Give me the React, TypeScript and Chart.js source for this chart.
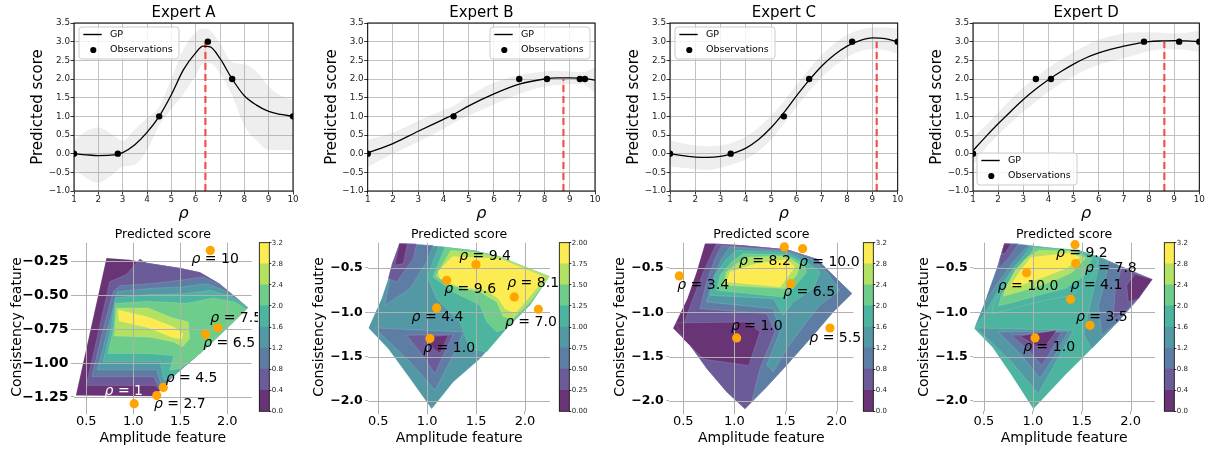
import React, { useEffect, useRef } from "react";
import { Chart, registerables } from "chart.js";

Chart.register(...registerables);

const FONT = "'DejaVu Sans', 'Liberation Sans', Arial, sans-serif";

// ================= Top row: GP fits =================
const topXTicks = [1, 2, 3, 4, 5, 6, 7, 8, 9, 10];
const topYTicks = [-1, -0.5, 0, 0.5, 1, 1.5, 2, 2.5, 3, 3.5];

const gpXA = [1, 1.5, 2, 2.5, 3, 3.5, 4, 4.5, 5, 5.5, 6, 6.3, 6.6, 7, 7.5, 8, 8.5, 9, 9.5, 10];
const gpMeanA = [0, -0.03, -0.05, -0.04, 0.03, 0.24, 0.57, 1.0, 1.58, 2.25, 2.7, 2.88, 2.86, 2.55, 2.0, 1.55, 1.3, 1.13, 1.05, 1.0];
const gpUpperA = [0.35, 0.6, 0.7, 0.55, 0.35, 0.65, 0.95, 1.25, 2.0, 2.8, 3.25, 3.35, 3.3, 2.95, 2.45, 2.4, 2.2, 1.8, 1.55, 1.45];
const gpLowerA = [-0.4, -0.65, -0.78, -0.6, -0.35, -0.3, 0.1, 0.75, 1.2, 1.6, 2.1, 2.4, 2.42, 2.15, 1.55, 0.75, 0.35, 0.1, 0.1, 0.1];
const obsXA = [1, 2.8, 4.5, 6.5, 7.5, 10];
const obsYA = [0, 0, 1, 3, 2, 1];
const bestRhoA = 6.4;

const gpXB = [1, 2, 3, 4, 4.4, 5, 6, 7, 8, 8.5, 9, 9.5, 10];
const gpMeanB = [0.02, 0.27, 0.6, 0.92, 1.05, 1.28, 1.6, 1.86, 2.0, 2.03, 2.03, 2.02, 1.97];
const gpUpperB = [0.38, 0.56, 0.88, 1.17, 1.28, 1.55, 1.9, 2.1, 2.2, 2.22, 2.2, 2.18, 2.3];
const gpLowerB = [-0.35, 0.0, 0.32, 0.66, 0.82, 1.02, 1.32, 1.6, 1.8, 1.84, 1.86, 1.86, 1.63];
const obsXB = [1, 4.4, 7, 8.1, 9.4, 9.6];
const obsYB = [0, 1, 2, 2, 2, 2];
const bestRhoB = 8.75;

const gpXC = [1, 1.5, 2, 2.5, 3, 3.4, 4, 4.5, 5, 5.5, 6, 6.5, 7, 7.5, 8, 8.5, 9, 9.5, 10];
const gpMeanC = [0, -0.05, -0.09, -0.1, -0.07, -0.01, 0.15, 0.38, 0.7, 1.1, 1.55, 1.97, 2.35, 2.65, 2.88, 3.03, 3.1, 3.08, 3.0];
const gpUpperC = [0.35, 0.28, 0.22, 0.2, 0.22, 0.28, 0.45, 0.7, 1.02, 1.4, 1.85, 2.27, 2.65, 2.95, 3.18, 3.32, 3.38, 3.38, 3.35];
const gpLowerC = [-0.35, -0.38, -0.42, -0.44, -0.38, -0.3, -0.15, 0.07, 0.38, 0.8, 1.25, 1.67, 2.05, 2.35, 2.58, 2.74, 2.8, 2.78, 2.68];
const obsXC = [1, 3.4, 5.5, 6.5, 8.2, 10];
const obsYC = [0, 0, 1, 2, 3, 3];
const bestRhoC = 9.17;

const gpXD = [1, 1.5, 2, 2.5, 3, 3.5, 4, 4.5, 5, 5.5, 6, 6.5, 7, 7.5, 8, 8.5, 9, 9.5, 10];
const gpMeanD = [0.08, 0.45, 0.8, 1.13, 1.45, 1.73, 1.98, 2.2, 2.4, 2.57, 2.7, 2.8, 2.88, 2.95, 3.0, 3.02, 3.03, 3.02, 3.0];
const gpUpperD = [0.45, 0.75, 1.1, 1.45, 1.78, 2.05, 2.3, 2.52, 2.72, 2.9, 3.05, 3.15, 3.22, 3.25, 3.25, 3.24, 3.22, 3.24, 3.3];
const gpLowerD = [-0.3, 0.15, 0.5, 0.82, 1.12, 1.4, 1.66, 1.88, 2.08, 2.25, 2.38, 2.48, 2.56, 2.65, 2.75, 2.79, 2.8, 2.78, 2.72];
const obsXD = [1, 3.5, 4.1, 7.8, 9.2, 10];
const obsYD = [0, 2, 2, 3, 3, 3];
const bestRhoD = 8.61;

// ================= Bottom row: contour maps =================
const contourXTicks = [0.5, 1.0, 1.5, 2.0];
const contourYTicksA = [-0.25, -0.5, -0.75, -1.0, -1.25];
const contourYTicksBCD = [-0.5, -1.0, -1.5, -2.0];
const cbLevels32 = [0, 0.4, 0.8, 1.2, 1.6, 2.0, 2.4, 2.8, 3.2];
const cbLevels2 = [0, 0.25, 0.5, 0.75, 1.0, 1.25, 1.5, 1.75, 2.0];

// Expert A contour regions (band index = level band)
const polyA0 = [[0.715, -0.226], [0.96, -0.238], [1.14, -0.26], [1.5, -0.3], [1.71, -0.33], [1.92, -0.415], [2.22, -0.59], [1.99, -0.75], [1.71, -0.93], [1.43, -1.095], [1.285, -1.2], [1.25, -1.245], [0.39, -1.24]];
const polyA1 = [[1.07, -0.232], [1.14, -0.26], [1.5, -0.3], [1.71, -0.33], [1.92, -0.415], [2.22, -0.59], [1.99, -0.75], [1.71, -0.93], [1.43, -1.095], [1.285, -1.2], [1.23, -1.165], [0.5, -1.165], [0.62, -0.8], [0.75, -0.4], [0.93, -0.346]];
const polyA2 = [[0.86, -0.43], [1.18, -0.415], [1.5, -0.39], [1.745, -0.365], [1.94, -0.43], [2.22, -0.59], [1.99, -0.75], [1.71, -0.93], [1.43, -1.095], [1.285, -1.19], [1.215, -1.1], [0.56, -1.1], [0.67, -0.78], [0.79, -0.47]];
const polyA3 = [[0.83, -0.475], [1.18, -0.45], [1.515, -0.44], [1.78, -0.415], [1.965, -0.465], [2.22, -0.59], [1.99, -0.75], [1.71, -0.93], [1.43, -1.095], [1.3, -1.165], [1.25, -1.05], [0.62, -1.05], [0.72, -0.78]];
const polyA4 = [[0.81, -0.52], [1.16, -0.495], [1.53, -0.49], [1.815, -0.465], [2.03, -0.505], [2.22, -0.59], [1.99, -0.75], [1.71, -0.93], [1.43, -1.095], [1.33, -1.125], [1.285, -0.99], [0.68, -0.99], [0.76, -0.76]];
const polyA5 = [[0.81, -0.56], [1.16, -0.545], [1.57, -0.56], [1.85, -0.52], [2.08, -0.55], [2.205, -0.605], [1.99, -0.75], [1.71, -0.93], [1.5, -1.04], [1.39, -1.055], [1.43, -0.945], [1.14, -0.93], [0.73, -0.93], [0.79, -0.75]];
const polyA6 = [[0.82, -0.595], [1.16, -0.595], [1.43, -0.67], [1.585, -0.695], [1.6, -0.82], [1.525, -0.88], [1.43, -0.845], [1.18, -0.81], [0.8, -0.8]];
const polyA7 = [[0.84, -0.61], [1.16, -0.66], [1.43, -0.735], [1.53, -0.785], [1.515, -0.825], [1.41, -0.81], [1.16, -0.74], [0.85, -0.69]];
const layersA = [[polyA0, 0], [polyA1, 1], [polyA2, 2], [polyA3, 3], [polyA4, 4], [polyA5, 5], [polyA6, 6], [polyA7, 7]];
const rhoTextA = ["10", "7.5", "6.5", "4.5", "2.7", "1"];
const rhoXA = [1.82, 1.9, 1.77, 1.32, 1.25, 1.01];
const rhoYA = [-0.17, -0.74, -0.79, -1.18, -1.24, -1.3];
const textXA = [1.62, 1.82, 1.745, 1.345, 1.22, 0.695];
const textYA = [-0.235, -0.673, -0.857, -1.11, -1.306, -1.206];

// Expert B
const polyB0 = [[0.715, -0.225], [0.824, -0.225], [1.165, -0.26], [1.472, -0.3], [1.744, -0.37], [2.051, -0.508], [2.25, -0.594], [2.051, -0.921], [1.813, -1.184], [1.54, -1.523], [1.267, -1.786], [1.046, -2.09], [0.824, -1.748], [0.602, -1.41], [0.4, -1.177], [0.534, -0.846], [0.636, -0.508]];
const polyB1 = [[0.715, -0.225], [1.063, -0.245], [0.994, -0.432], [0.824, -0.733], [0.568, -0.921], [0.636, -0.508]];
const polyB2 = [[0.715, -0.225], [0.892, -0.228], [0.858, -0.395], [0.688, -0.658], [0.6, -0.62], [0.64, -0.45]];
const polyB3 = [[0.715, -0.225], [0.797, -0.228], [0.756, -0.451], [0.67, -0.47]];
const polyB4 = [[0.466, -1.177], [0.602, -1.184], [1.369, -1.222], [1.301, -1.41], [1.08, -1.88], [0.824, -1.56]];
const polyB5 = [[0.79, -1.259], [1.267, -1.252], [1.165, -1.485], [1.08, -1.692], [0.926, -1.447]];
const polyB6 = [[0.994, -1.278], [1.216, -1.259], [1.131, -1.466], [1.063, -1.41]];
const polyB7 = [[1.12, -0.255], [1.472, -0.3], [1.744, -0.37], [2.051, -0.508], [2.25, -0.594], [2.051, -0.921], [1.813, -1.184], [1.608, -1.447], [1.438, -1.41], [1.335, -1.109], [1.097, -0.846], [1.0, -0.6]];
const polyB8 = [[1.18, -0.27], [1.472, -0.3], [1.744, -0.37], [2.051, -0.508], [2.25, -0.594], [2.051, -0.921], [1.813, -1.184], [1.71, -1.222], [1.608, -1.109], [1.54, -0.921], [1.267, -0.771], [1.06, -0.6]];
const polyB9 = [[1.24, -0.3], [1.472, -0.32], [1.744, -0.376], [2.051, -0.508], [2.25, -0.594], [2.051, -0.883], [1.881, -1.071], [1.779, -1.053], [1.71, -0.883], [1.54, -0.771], [1.233, -0.695], [1.09, -0.59]];
const polyB10 = [[1.26, -0.37], [1.744, -0.395], [2.12, -0.564], [2.205, -0.613], [2.017, -0.865], [1.898, -1.015], [1.796, -0.959], [1.727, -0.846], [1.608, -0.752], [1.335, -0.714], [1.131, -0.62], [1.11, -0.54]];
const layersB = [[polyB0, 3], [polyB1, 2], [polyB2, 1], [polyB3, 0], [polyB4, 2], [polyB5, 1], [polyB6, 0], [polyB7, 4], [polyB8, 5], [polyB9, 6], [polyB10, 7]];
const rhoTextB = ["9.4", "9.6", "8.1", "7.0", "4.4", "1.0"];
const rhoXB = [1.499, 1.199, 1.891, 2.137, 1.097, 1.028];
const rhoYB = [-0.462, -0.639, -0.827, -0.966, -0.951, -1.297];
const textXB = [1.328, 1.175, 1.819, 1.796, 0.841, 0.96];
const textYB = [-0.368, -0.744, -0.669, -1.109, -1.06, -1.41];

// Expert C
const polyC0 = [[0.712, -0.225], [0.81, -0.225], [1.054, -0.24], [1.511, -0.29], [1.804, -0.395], [1.935, -0.545], [2.15, -0.789], [1.967, -0.996], [1.772, -1.259], [1.511, -1.598], [1.315, -1.842], [1.103, -2.09], [0.924, -1.898], [0.728, -1.635], [0.565, -1.372], [0.4, -1.18], [0.539, -0.846], [0.63, -0.545]];
const polyC1 = [[0.82, -0.235], [1.054, -0.24], [1.511, -0.29], [1.804, -0.395], [1.935, -0.545], [2.15, -0.789], [1.967, -0.996], [1.772, -1.259], [1.511, -1.598], [1.315, -1.842], [1.103, -2.09], [0.924, -1.898], [0.728, -1.635], [0.565, -1.372], [0.48, -1.22], [0.582, -0.883], [0.696, -0.545]];
const polyC2 = [[0.425, -1.12], [1.12, -1.11], [1.25, -1.22], [1.14, -1.6], [0.7, -1.53], [0.5, -1.3]];
const polyC3 = [[0.875, -0.248], [1.511, -0.3], [1.804, -0.395], [1.935, -0.545], [2.15, -0.789], [1.967, -0.996], [1.772, -1.259], [1.511, -1.598], [1.315, -1.842], [1.168, -2.011], [1.25, -1.635], [1.397, -1.222], [1.315, -1.015], [0.663, -0.959], [0.728, -0.658], [0.81, -0.395]];
const polyC4 = [[0.956, -0.263], [1.511, -0.312], [1.772, -0.414], [1.902, -0.545], [2.032, -0.752], [1.837, -0.921], [1.706, -1.109], [1.511, -1.41], [1.38, -1.673], [1.315, -1.598], [1.446, -1.222], [1.38, -0.959], [0.728, -0.883], [0.793, -0.62], [0.875, -0.395]];
const polyC5 = [[1.022, -0.301], [1.511, -0.327], [1.706, -0.432], [1.837, -0.545], [1.772, -0.733], [1.576, -0.883], [1.478, -1.034], [1.38, -0.846], [0.761, -0.808], [0.81, -0.583], [0.924, -0.395]];
const polyC6 = [[1.087, -0.338], [1.511, -0.35], [1.674, -0.451], [1.706, -0.545], [1.576, -0.733], [1.462, -0.827], [0.826, -0.752], [0.859, -0.583], [0.973, -0.432]];
const polyC7 = [[1.152, -0.376], [1.511, -0.365], [1.641, -0.47], [1.609, -0.583], [1.494, -0.733], [0.891, -0.695], [0.924, -0.545], [1.022, -0.451]];
const polyC8 = [[1.217, -0.451], [1.511, -0.402], [1.592, -0.489], [1.511, -0.62], [1.446, -0.714], [0.924, -0.658], [0.956, -0.545], [1.054, -0.508]];
const layersC = [[polyC0, 0], [polyC1, 1], [polyC2, 0], [polyC3, 2], [polyC4, 3], [polyC5, 4], [polyC6, 5], [polyC7, 6], [polyC8, 7]];
const rhoTextC = ["8.2", "10.0", "3.4", "6.5", "1.0", "5.5"];
const rhoXC = [1.488, 1.667, 0.461, 1.553, 1.022, 1.935];
const rhoYC = [-0.263, -0.282, -0.59, -0.677, -1.289, -1.177];
const textXC = [1.045, 1.631, 0.441, 1.478, 0.966, 1.733];
const textYC = [-0.425, -0.432, -0.695, -0.778, -1.154, -1.289];

// Expert D
const polyD0 = [[0.708, -0.225], [0.834, -0.225], [1.158, -0.27], [1.465, -0.295], [1.738, -0.395], [2.079, -0.583], [2.222, -0.628], [2.079, -0.846], [1.806, -1.184], [1.601, -1.41], [1.329, -1.711], [1.005, -2.09], [0.783, -1.711], [0.585, -1.391], [0.401, -1.184], [0.51, -0.883], [0.63, -0.508]];
const polyD1 = [[0.708, -0.225], [1.02, -0.252], [0.82, -0.47], [0.66, -0.72], [0.54, -0.96], [0.401, -1.184], [0.51, -0.883], [0.63, -0.508]];
const polyD2 = [[0.708, -0.225], [0.953, -0.243], [0.8, -0.432], [0.647, -0.658], [0.51, -0.883], [0.63, -0.508]];
const polyD3 = [[0.708, -0.225], [0.851, -0.228], [0.749, -0.395], [0.647, -0.508], [0.66, -0.4]];
const polyD4 = [[0.708, -0.225], [0.776, -0.226], [0.715, -0.338], [0.68, -0.33]];
const polyD5 = [[0.425, -1.177], [1.414, -1.203], [1.294, -1.447], [1.056, -1.917], [0.783, -1.56]];
const polyD6 = [[0.647, -1.222], [1.363, -1.214], [1.226, -1.485], [1.073, -1.748], [0.885, -1.485]];
const polyD7 = [[0.783, -1.259], [1.294, -1.222], [1.158, -1.485], [1.09, -1.598], [0.953, -1.429]];
const polyD8 = [[0.868, -1.267], [1.243, -1.203], [1.124, -1.391], [1.039, -1.38]];
const polyD9 = [[0.98, -0.25], [1.465, -0.3], [1.669, -0.414], [1.601, -0.62], [1.397, -0.808], [1.124, -0.865], [0.783, -0.959], [0.58, -1.02], [0.6, -0.9], [0.72, -0.66], [0.85, -0.45]];
const polyD10 = [[1.02, -0.27], [1.42, -0.3], [1.601, -0.395], [1.533, -0.583], [1.329, -0.733], [1.124, -0.789], [0.817, -0.883], [0.65, -0.93], [0.68, -0.8], [0.8, -0.6], [0.92, -0.42]];
const polyD11 = [[1.06, -0.3], [1.41, -0.31], [1.54, -0.39], [1.4, -0.55], [1.23, -0.64], [0.99, -0.73], [0.7, -0.82], [0.72, -0.72], [0.82, -0.52], [0.94, -0.38]];
const polyD12 = [[0.98, -0.38], [1.38, -0.33], [1.48, -0.38], [1.35, -0.5], [1.12, -0.6], [0.84, -0.71], [0.77, -0.7], [0.86, -0.55]];
const polyD13 = [[1.68, -0.38], [2.222, -0.628], [2.079, -0.846], [1.806, -1.184], [1.601, -1.41], [1.52, -1.25], [1.6, -0.85], [1.66, -0.55]];
const polyD14 = [[1.772, -0.42], [2.222, -0.628], [2.079, -0.846], [1.874, -1.109], [1.704, -1.259], [1.669, -0.921], [1.738, -0.658]];
const polyD15 = [[1.907, -0.495], [2.222, -0.628], [2.079, -0.846], [1.942, -0.996], [1.823, -1.071], [1.84, -0.771]];
const polyD16 = [[2.044, -0.57], [2.222, -0.628], [2.079, -0.846], [1.976, -0.883], [1.959, -0.695]];
const layersD = [[polyD0, 4], [polyD1, 3], [polyD2, 2], [polyD3, 1], [polyD4, 0], [polyD5, 3], [polyD6, 2], [polyD7, 1], [polyD8, 0], [polyD9, 4], [polyD10, 5], [polyD11, 6], [polyD12, 7], [polyD13, 3], [polyD14, 2], [polyD15, 1], [polyD16, 0]];
const rhoTextD = ["9.2", "7.8", "10.0", "4.1", "3.5", "1.0"];
const rhoXD = [1.431, 1.438, 0.936, 1.386, 1.584, 1.022];
const rhoYD = [-0.237, -0.451, -0.553, -0.853, -1.147, -1.289];
const textXD = [1.236, 1.533, 0.64, 1.386, 1.441, 0.902];
const textYD = [-0.338, -0.508, -0.703, -0.695, -1.053, -1.391];

// ================= styles / layout =================
// viridis 8 bands, blended at alpha 0.8 over white
const BAND_COLORS = [
  "rgb(105,52,118)",
  "rgb(107,91,152)",
  "rgb(94,125,164)",
  "rgb(82,153,165)",
  "rgb(76,180,159)",
  "rgb(110,205,138)",
  "rgb(179,225,97)",
  "rgb(253,236,81)",
];

const toXY = (xs: number[], ys: number[]) => xs.map((x, i) => ({ x, y: ys[i] }));
const minus = (s: string) => s.replace("-", "\u2212");

const TOP_SPECS: any[] = [
  { title: "Expert A", x: gpXA, mean: gpMeanA, upper: gpUpperA, lower: gpLowerA, obsX: obsXA, obsY: obsYA, best: bestRhoA, legend: "tl", plot: [74, 23, 293, 191] },
  { title: "Expert B", x: gpXB, mean: gpMeanB, upper: gpUpperB, lower: gpLowerB, obsX: obsXB, obsY: obsYB, best: bestRhoB, legend: "tr", plot: [367.7, 23, 595, 191] },
  { title: "Expert C", x: gpXC, mean: gpMeanC, upper: gpUpperC, lower: gpLowerC, obsX: obsXC, obsY: obsYC, best: bestRhoC, legend: "tl", plot: [670, 23, 897.7, 191] },
  { title: "Expert D", x: gpXD, mean: gpMeanD, upper: gpUpperD, lower: gpLowerD, obsX: obsXD, obsY: obsYD, best: bestRhoD, legend: "bl", plot: [973, 23, 1199.3, 191] },
];

const CONTOUR_SPECS: any[] = [
  { key: "A", layers: layersA, rx: rhoXA, ry: rhoYA, rt: rhoTextA, tx: textXA, ty: textYA, white: [5], xr: [0.37, 2.26], yr: [-1.356, -0.113], yTicks: contourYTicksA, yDec: 2, yTickSize: 14, yTitle: "Consistency feature", yTitleX: 17.3, plot: [74, 242.7, 251.7, 411.3], canvas: [0, 222, 258, 229] },
  { key: "B", layers: layersB, rx: rhoXB, ry: rhoYB, rt: rhoTextB, tx: textXB, ty: textYB, white: [], xr: [0.398, 2.256], yr: [-2.117, -0.215], yTicks: contourYTicksBCD, yDec: 1, yTickSize: 12.5, yTitle: "Consistency feautre", yTitleX: 319, plot: [368.3, 242.7, 550, 411.3], canvas: [300, 222, 258, 229] },
  { key: "C", layers: layersC, rx: rhoXC, ry: rhoYC, rt: rhoTextC, tx: textXC, ty: textYC, white: [], xr: [0.363, 2.163], yr: [-2.117, -0.215], yTicks: contourYTicksBCD, yDec: 1, yTickSize: 12.5, yTitle: "Consistency feature", yTitleX: 620.7, plot: [669.3, 242.7, 853.3, 411.3], canvas: [600, 222, 262, 229] },
  { key: "D", layers: layersD, rx: rhoXD, ry: rhoYD, rt: rhoTextD, tx: textXD, ty: textYD, white: [], xr: [0.391, 2.249], yr: [-2.117, -0.215], yTicks: contourYTicksBCD, yDec: 1, yTickSize: 12.5, yTitle: "Consistency feature", yTitleX: 924, plot: [973.3, 242.7, 1155, 411.3], canvas: [905, 222, 258, 229] },
];

const COLORBAR_SPECS: any[] = [
  { key: "A", levels: cbLevels32, dec: 1, bar: [259.3, 242.7, 269.3, 411.3], canvas: [258, 222, 40, 229] },
  { key: "B", levels: cbLevels2, dec: 2, bar: [559.3, 242.7, 569.3, 411.3], canvas: [558, 222, 42, 229] },
  { key: "C", levels: cbLevels32, dec: 1, bar: [863.3, 242.7, 873.3, 411.3], canvas: [862, 222, 42, 229] },
  { key: "D", levels: cbLevels32, dec: 1, bar: [1164.3, 242.7, 1174.3, 411.3], canvas: [1163, 222, 45, 229] },
];

// ================= plugins =================
const framePlugin = (width: number) => ({
  id: "frame",
  afterDraw(chart: any) {
    const { ctx, chartArea: a } = chart;
    ctx.save();
    ctx.strokeStyle = "#000";
    ctx.lineWidth = width;
    ctx.strokeRect(a.left, a.top, a.right - a.left, a.bottom - a.top);
    ctx.restore();
  },
});

const gpLegendPlugin = (pos: string) => ({
  id: "gpLegend",
  afterDraw(chart: any) {
    const { ctx, chartArea: a } = chart;
    const w = 100;
    const h = 32;
    let x = a.left + 5;
    let y = a.top + 4;
    if (pos === "tr") x = a.right - 5 - w;
    if (pos === "bl") {
      x = a.left + 4;
      y = a.bottom - 6 - h;
    }
    ctx.save();
    ctx.beginPath();
    if (ctx.roundRect) ctx.roundRect(x, y, w, h, 3);
    else ctx.rect(x, y, w, h);
    ctx.fillStyle = "rgba(255,255,255,0.8)";
    ctx.fill();
    ctx.strokeStyle = "#cccccc";
    ctx.lineWidth = 1;
    ctx.stroke();
    ctx.strokeStyle = "#000";
    ctx.lineWidth = 1.4;
    ctx.beginPath();
    ctx.moveTo(x + 4.3, y + 7.5);
    ctx.lineTo(x + 22.7, y + 7.5);
    ctx.stroke();
    ctx.fillStyle = "#000";
    ctx.beginPath();
    ctx.arc(x + 14.3, y + 23, 3.1, 0, Math.PI * 2);
    ctx.fill();
    ctx.font = `9.5px ${FONT}`;
    ctx.textBaseline = "middle";
    ctx.textAlign = "left";
    ctx.fillText("GP", x + 31, y + 7.5);
    ctx.fillText("Observations", x + 31, y + 23);
    ctx.restore();
  },
});

const contourGridPlugin = {
  id: "contourGrid",
  beforeDatasetDraw(chart: any, args: any) {
    if (args.index !== 0) return;
    const { ctx, chartArea: a, scales } = chart;
    ctx.save();
    ctx.strokeStyle = "#b0b0b0";
    ctx.lineWidth = 1;
    ctx.beginPath();
    scales.x.ticks.forEach((t: any) => {
      const px = Math.round(scales.x.getPixelForValue(t.value)) + 0.5;
      ctx.moveTo(px, a.top);
      ctx.lineTo(px, a.bottom);
    });
    scales.y.ticks.forEach((t: any) => {
      const py = Math.round(scales.y.getPixelForValue(t.value)) + 0.5;
      ctx.moveTo(a.left, py);
      ctx.lineTo(a.right, py);
    });
    ctx.stroke();
    ctx.restore();
  },
};

const rhoLabelPlugin = (s: any) => ({
  id: "rhoLabels",
  afterDraw(chart: any) {
    const { ctx, scales } = chart;
    ctx.save();
    ctx.textBaseline = "middle";
    ctx.textAlign = "left";
    s.rt.forEach((txt: string, i: number) => {
      const px = scales.x.getPixelForValue(s.tx[i]);
      const py = scales.y.getPixelForValue(s.ty[i]);
      ctx.fillStyle = s.white.includes(i) ? "#ffffff" : "#000000";
      ctx.font = `italic 14px ${FONT}`;
      ctx.fillText("\u03c1", px, py);
      const w = ctx.measureText("\u03c1").width;
      ctx.font = `14px ${FONT}`;
      ctx.fillText(" = " + txt, px + w, py);
    });
    ctx.restore();
  },
});

// ================= components =================
function TopPanel({ s }: { s: any }) {
  const ref = useRef<HTMLCanvasElement>(null);
  const [pl, pt, pr, pb] = s.plot;
  const cl = Math.floor(pl - 74);
  const ct = 0;
  const cw = Math.ceil(pr + 8 - cl);
  const ch = 224;
  useEffect(() => {
    const yW = pl - cl;
    const xH = ct + ch - pb;
    const padR = cl + cw - pr;
    const bestTop = Math.max(...s.obsY);
    const bestLine = [{ x: s.best, y: -1 }, { x: s.best, y: bestTop }];
    const tickFont = { family: FONT, size: 8.8 };
    const grid = { color: "#c2c2c2", lineWidth: 1, tickColor: "#000", tickLength: 3.5, tickWidth: 0.8 };
    const chart = new Chart(ref.current as HTMLCanvasElement, {
      type: "line",
      data: {
        datasets: [
          { label: "Observations", type: "scatter", data: toXY(s.obsX, s.obsY), backgroundColor: "#000", borderColor: "#000", pointRadius: 3.2, pointBorderWidth: 0 } as any,
          { label: "GP", data: toXY(s.x, s.mean), borderColor: "#000", borderWidth: 1.3, pointRadius: 0, fill: false, cubicInterpolationMode: "monotone" },
          { label: "best", data: bestLine, borderColor: "rgba(238,58,58,0.85)", borderWidth: 2.2, borderDash: [7, 4], pointRadius: 0, fill: false },
          { label: "best-faint", data: bestLine, borderColor: "rgba(255,90,90,0.3)", borderWidth: 1, pointRadius: 0, fill: false },
          { label: "upper", data: toXY(s.x, s.upper), borderWidth: 0, pointRadius: 0, fill: "+1", backgroundColor: "rgba(150,150,150,0.16)", cubicInterpolationMode: "monotone" },
          { label: "lower", data: toXY(s.x, s.lower), borderWidth: 0, pointRadius: 0, fill: false, cubicInterpolationMode: "monotone" },
        ],
      },
      options: {
        animation: false,
        responsive: false,
        devicePixelRatio: 1,
        events: [],
        layout: { padding: { left: 0, right: padR, top: 0, bottom: 0 } },
        plugins: {
          legend: { display: false },
          tooltip: { enabled: false },
          title: {
            display: true,
            text: s.title,
            fullSize: false,
            color: "#000",
            font: { family: FONT, size: 15, weight: "normal" },
            padding: { top: 4, bottom: pt - ct - 22 },
          },
        },
        scales: {
          x: {
            type: "linear",
            min: 1,
            max: 10,
            afterBuildTicks: (a: any) => {
              a.ticks = topXTicks.map((v) => ({ value: v }));
            },
            afterFit: (a: any) => {
              a.height = xH;
            },
            ticks: { autoSkip: false, maxRotation: 0, minRotation: 0, padding: 0, color: "#222", font: tickFont, callback: (v: any) => String(v) },
            grid,
            border: { display: false },
            title: { display: true, text: "\u03c1", color: "#000", font: { family: FONT, size: 16, style: "italic" }, padding: { top: 0, bottom: 0.9 } },
          },
          y: {
            type: "linear",
            min: -1,
            max: 3.5,
            afterBuildTicks: (a: any) => {
              a.ticks = topYTicks.map((v) => ({ value: v }));
            },
            afterFit: (a: any) => {
              a.width = yW;
            },
            ticks: { autoSkip: false, padding: 0.5, color: "#222", font: tickFont, callback: (v: any) => minus(Number(v).toFixed(1)) },
            grid,
            border: { display: false },
            title: { display: true, text: "Predicted score", color: "#000", font: { family: FONT, size: 15 }, padding: { top: pl - 36 - cl - 9, bottom: 0 } },
          },
        },
      } as any,
      plugins: [framePlugin(1), gpLegendPlugin(s.legend)],
    });
    return () => chart.destroy();
  }, []);
  return <canvas ref={ref} width={cw} height={ch} style={{ position: "absolute", left: cl, top: ct, width: cw, height: ch }} />;
}

function ContourPanel({ s }: { s: any }) {
  const ref = useRef<HTMLCanvasElement>(null);
  const [cl, ct, cw, ch] = s.canvas;
  const [pl, pt, pr, pb] = s.plot;
  useEffect(() => {
    const yW = pl - cl;
    const xH = ct + ch - pb;
    const padR = cl + cw - pr;
    const polyDatasets = s.layers
      .slice()
      .reverse()
      .map(([poly, band]: any) => ({
        type: "line",
        data: [...poly, poly[0]].map(([x, y]: number[]) => ({ x, y })),
        backgroundColor: BAND_COLORS[band],
        borderColor: "rgba(255,255,255,0.22)",
        borderWidth: 0.6,
        pointRadius: 0,
        fill: "shape",
        tension: 0,
      }));
    const chart = new Chart(ref.current as HTMLCanvasElement, {
      type: "scatter",
      data: {
        datasets: [
          { type: "scatter", data: toXY(s.rx, s.ry), backgroundColor: "#ffa500", borderWidth: 0, pointRadius: 4.6, clip: false } as any,
          ...polyDatasets,
        ],
      },
      options: {
        animation: false,
        responsive: false,
        devicePixelRatio: 1,
        events: [],
        layout: { padding: { left: 0, right: padR, top: 0, bottom: 0 } },
        plugins: {
          legend: { display: false },
          tooltip: { enabled: false },
          title: {
            display: true,
            text: "Predicted score",
            fullSize: false,
            color: "#000",
            font: { family: FONT, size: 12.5, weight: "normal" },
            padding: { top: 5.5, bottom: pt - ct - 5.5 - 15 },
          },
        },
        scales: {
          x: {
            type: "linear",
            min: s.xr[0],
            max: s.xr[1],
            afterBuildTicks: (a: any) => {
              a.ticks = contourXTicks.map((v) => ({ value: v }));
            },
            afterFit: (a: any) => {
              a.height = xH;
            },
            ticks: { autoSkip: false, maxRotation: 0, minRotation: 0, padding: 0, color: "#000", font: { family: FONT, size: 13 }, callback: (v: any) => Number(v).toFixed(1) },
            grid: { display: true, drawOnChartArea: false, drawTicks: true, tickLength: 3, tickColor: "#b0b0b0", tickWidth: 1 },
            border: { display: false },
            title: { display: true, text: "Amplitude feature", color: "#000", font: { family: FONT, size: 14 }, padding: { top: 0, bottom: 3.9 } },
          },
          y: {
            type: "linear",
            min: s.yr[0],
            max: s.yr[1],
            afterBuildTicks: (a: any) => {
              a.ticks = s.yTicks.map((v: number) => ({ value: v }));
            },
            afterFit: (a: any) => {
              a.width = yW;
            },
            ticks: { autoSkip: false, padding: 2.5, color: "#000", font: { family: FONT, size: s.yTickSize, weight: "bold" }, callback: (v: any) => minus(Number(v).toFixed(s.yDec)) },
            grid: { display: true, drawOnChartArea: false, drawTicks: true, tickLength: 3, tickColor: "#b0b0b0", tickWidth: 1 },
            border: { display: false },
            title: { display: true, text: s.yTitle, color: "#000", font: { family: FONT, size: 14 }, padding: { top: s.yTitleX - cl - 8.4, bottom: 0 } },
          },
        },
      } as any,
      plugins: [contourGridPlugin, rhoLabelPlugin(s)],
    });
    return () => chart.destroy();
  }, []);
  return <canvas ref={ref} width={cw} height={ch} style={{ position: "absolute", left: cl, top: ct, width: cw, height: ch }} />;
}

function ColorBar({ s }: { s: any }) {
  const ref = useRef<HTMLCanvasElement>(null);
  const [cl, ct, cw, ch] = s.canvas;
  const [bl, bt, br, bb] = s.bar;
  useEffect(() => {
    const lv: number[] = s.levels;
    const chart = new Chart(ref.current as HTMLCanvasElement, {
      type: "bar",
      data: {
        labels: [""],
        datasets: lv.slice(0, -1).map((v, i) => ({
          data: [lv[i + 1] - v],
          backgroundColor: BAND_COLORS[i],
          borderWidth: 0,
          barPercentage: 1,
          categoryPercentage: 1,
        })),
      },
      options: {
        animation: false,
        responsive: false,
        devicePixelRatio: 1,
        events: [],
        layout: { padding: { left: bl - cl, top: bt - ct, bottom: ct + ch - bb, right: 0 } },
        plugins: { legend: { display: false }, tooltip: { enabled: false } },
        scales: {
          x: { stacked: true, display: false },
          y: {
            stacked: true,
            position: "right",
            min: lv[0],
            max: lv[lv.length - 1],
            afterBuildTicks: (a: any) => {
              a.ticks = lv.map((v) => ({ value: v }));
            },
            afterFit: (a: any) => {
              a.width = cl + cw - br;
            },
            ticks: { autoSkip: false, padding: 0.5, color: "#222", font: { family: FONT, size: 7 }, callback: (v: any) => Number(v).toFixed(s.dec) },
            grid: { display: true, drawOnChartArea: false, drawTicks: true, tickLength: 2, tickColor: "#000", tickWidth: 0.8 },
            border: { display: false },
          },
        },
      } as any,
      plugins: [framePlugin(0.8)],
    });
    return () => chart.destroy();
  }, []);
  return <canvas ref={ref} width={cw} height={ch} style={{ position: "absolute", left: cl, top: ct, width: cw, height: ch }} />;
}

export default function App() {
  return (
    <div style={{ position: "absolute", left: 0, top: 0, width: 1210, height: 451, overflow: "hidden", background: "#fff" }}>
      {TOP_SPECS.map((s) => (
        <TopPanel key={s.title} s={s} />
      ))}
      {CONTOUR_SPECS.map((s) => (
        <ContourPanel key={s.key} s={s} />
      ))}
      {COLORBAR_SPECS.map((s) => (
        <ColorBar key={s.key} s={s} />
      ))}
    </div>
  );
}
